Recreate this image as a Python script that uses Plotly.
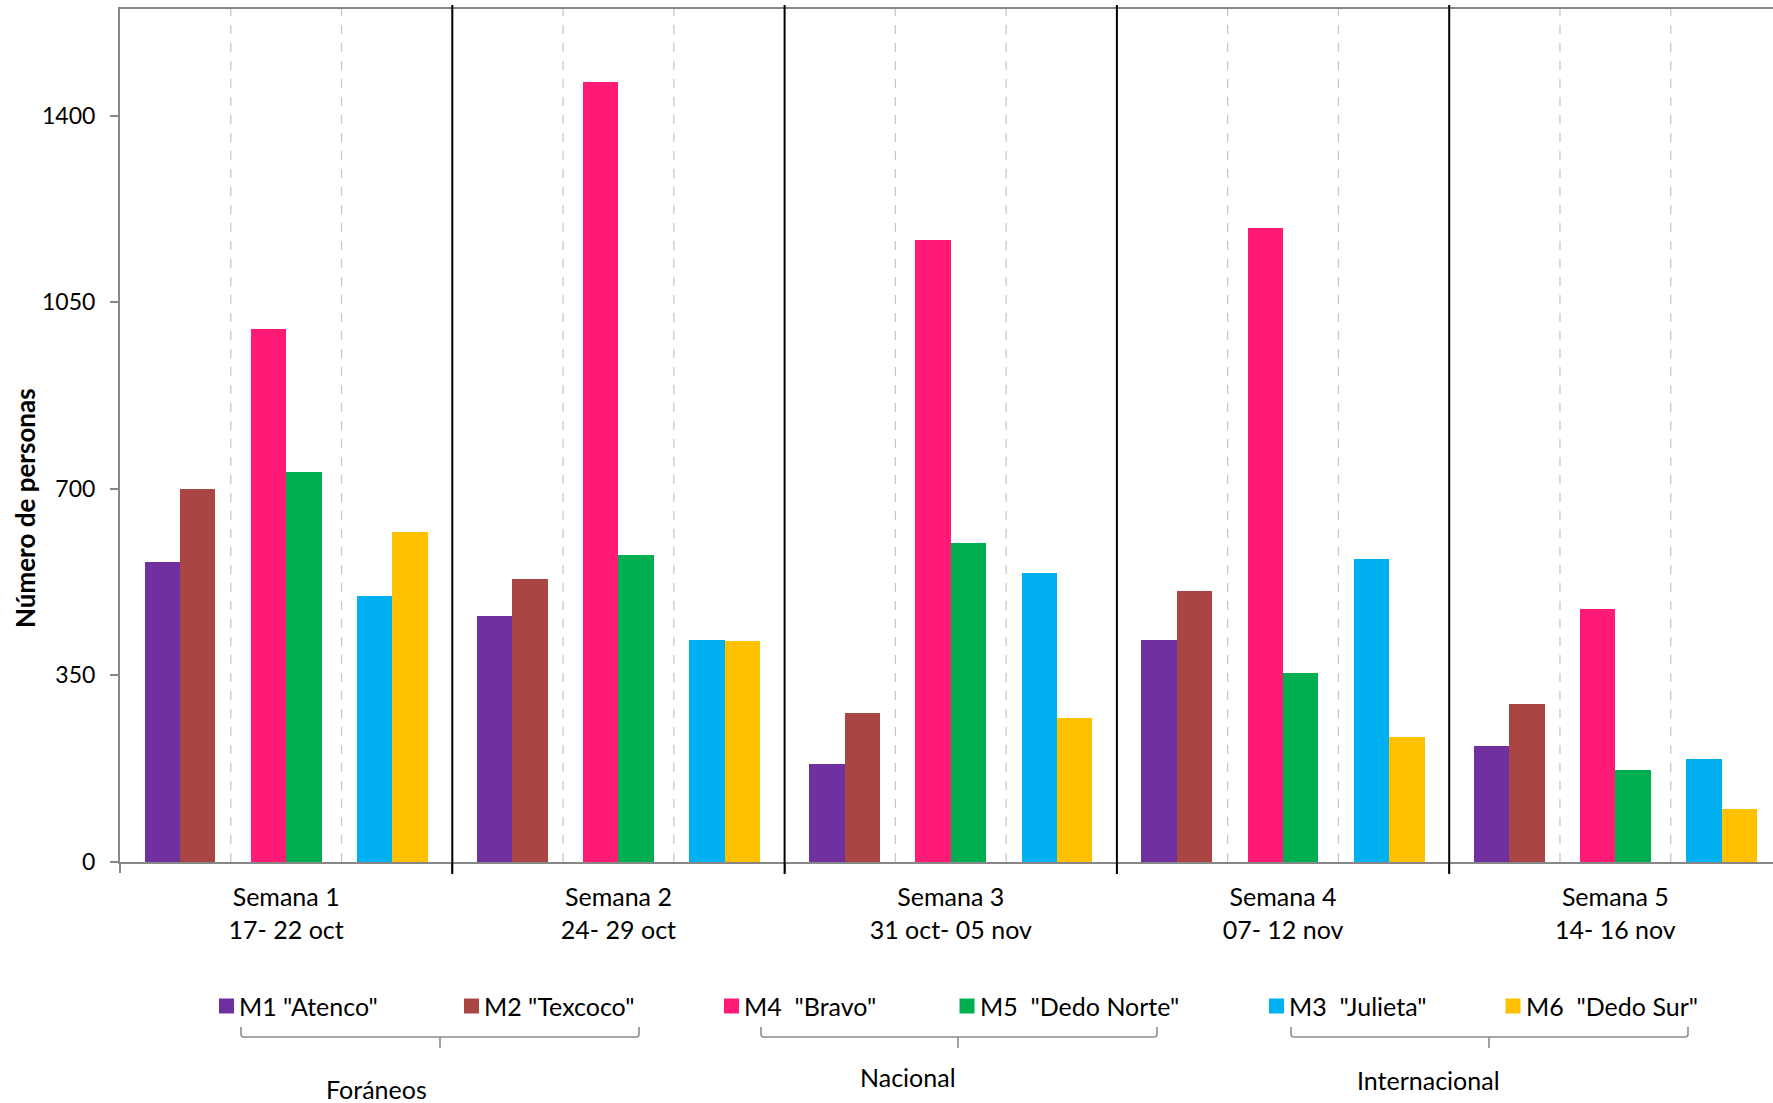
import plotly.graph_objects as go

# ---------------- data ----------------
weeks = ["Semana 1", "Semana 2", "Semana 3", "Semana 4", "Semana 5"]
dates = ["17- 22 oct", "24- 29 oct", "31 oct- 05 nov", "07- 12 nov", "14- 16 nov"]
y_ticks = [0, 350, 700, 1050, 1400]

m1_atenco = [562, 461, 184, 416, 217]
m2_texcoco = [700, 531, 279, 508, 297]
m4_bravo = [999, 1463, 1167, 1189, 474]
m5_dedo_norte = [732, 576, 599, 354, 173]
m3_julieta = [499, 416, 543, 569, 194]
m6_dedo_sur = [619, 414, 271, 234, 99]

series_names = ['M1 "Atenco"', 'M2 "Texcoco"', 'M4\u00a0 "Bravo"',
                'M5\u00a0 "Dedo Norte"', 'M3\u00a0 "Julieta"', 'M6\u00a0 "Dedo Sur"']
group_names = ["Foráneos", "Nacional", "Internacional"]

# ---------------- style / layout ----------------
series_values = [m1_atenco, m2_texcoco, m4_bravo, m5_dedo_norte, m3_julieta, m6_dedo_sur]
colors = ["#7030A0", "#A94643", "#FF1A75", "#00B050", "#00B0F0", "#FFC000"]
slots = [0, 1, 3, 4, 6, 7]          # 8 slots per week, two empty spacers

W, H = 1773, 1103
ML, MT, MB = 120, 9, 241
PW, PH = W - ML, H - MT - MB
week_px = 332.3
x_span = PW / week_px
bw = 35.4 / week_px
FONT = "Lato, 'Open Sans', sans-serif"
GRAY = "#878787"

x_pos = list(range(len(weeks)))

def px_x(p):
    return (p - ML) / PW

def px_y(p):
    return (H - MB - p) / PH

fig = go.Figure()
for name, vals, col, s in zip(series_names, series_values, colors, slots):
    fig.add_trace(go.Bar(
        x=x_pos, y=vals, name=name, marker=dict(color=col, line=dict(width=0)),
        width=bw, offset=-4 * bw + s * bw, showlegend=False,
    ))

shapes = []
# dashed sub-group dividers
n_third = int(len(weeks) * 3)
for k in range(1, n_third):
    if k % 3 == 0:
        continue
    xv = -0.5 + k / 3
    if xv < -0.5 + x_span:
        shapes.append(dict(type="line", xref="x", yref="paper", x0=xv, x1=xv, y0=0, y1=1,
                           line=dict(color="#C8C8C8", width=1.3, dash="dash"), layer="below"))
# solid week separators
for k in range(len(weeks) - 1):
    xp = (k + 1) / x_span
    shapes.append(dict(type="line", xref="paper", yref="paper", x0=xp, x1=xp,
                       y0=px_y(874), y1=px_y(5), line=dict(color="black", width=2)))

# legend squares + texts
legend_sq_x = [219, 464, 724, 959.5, 1269, 1505.5]
annotations = []
for name, col, sx in zip(series_names, colors, legend_sq_x):
    shapes.append(dict(type="rect", xref="paper", yref="paper",
                       x0=px_x(sx), x1=px_x(sx + 15), y0=px_y(1013.5), y1=px_y(998.5),
                       fillcolor=col, line=dict(width=0)))
    annotations.append(dict(text=name, xref="paper", yref="paper", x=px_x(sx + 18), y=px_y(1006),
                            xanchor="left", yanchor="middle", showarrow=False,
                            font=dict(family=FONT, size=25, color="black")))

# brackets
brackets = [(241, 440, 639), (761, 958, 1157), (1291, 1489, 1688)]
for l, c, r in brackets:
    path = (f"M {px_x(l)} {px_y(1027)} L {px_x(l)} {px_y(1034)} Q {px_x(l)} {px_y(1037)} {px_x(l + 3)} {px_y(1037)} "
            f"L {px_x(r - 3)} {px_y(1037)} Q {px_x(r)} {px_y(1037)} {px_x(r)} {px_y(1034)} L {px_x(r)} {px_y(1027)} "
            f"M {px_x(c)} {px_y(1037)} L {px_x(c)} {px_y(1048)}")
    shapes.append(dict(type="path", xref="paper", yref="paper", path=path,
                       line=dict(color="#8C8C8C", width=1.6)))

group_label_pos = [(376, 1089), (908, 1077), (1428, 1080)]
for g, (gx, gy) in zip(group_names, group_label_pos):
    annotations.append(dict(text=g, xref="paper", yref="paper", x=px_x(gx), y=px_y(gy),
                            xanchor="center", yanchor="middle", showarrow=False,
                            font=dict(family=FONT, size=25, color="black")))

# y-axis title
annotations.append(dict(text="<b>Número de personas</b>", xref="paper", yref="paper",
                        x=px_x(25), y=px_y(508), textangle=-90, xanchor="center", yanchor="middle",
                        showarrow=False, font=dict(family=FONT, size=26, color="black")))

fig.update_layout(
    width=W, height=H, margin=dict(l=ML, r=0, t=MT, b=MB, pad=0),
    plot_bgcolor="white", paper_bgcolor="white", barmode="overlay", bargap=0,
    font=dict(family=FONT, size=25, color="black"),
    shapes=shapes, annotations=annotations, showlegend=False,
    xaxis=dict(range=[-0.5, -0.5 + x_span], tickmode="array", tickvals=x_pos,
               ticktext=[f"{w}<br>{d}" for w, d in zip(weeks, dates)],
               showline=True, linecolor=GRAY, linewidth=2, mirror=True, ticks="",
               showgrid=False, zeroline=False, tickfont=dict(family=FONT, size=25),
               ticklabelstandoff=12,
               minor=dict(ticks="outside", tick0=-0.5, dtick=1, ticklen=9, tickcolor=GRAY, tickwidth=1.5)),
    yaxis=dict(range=[0, 1600], tickmode="array", tickvals=y_ticks,
               showline=True, linecolor=GRAY, linewidth=2, ticks="outside", ticklen=8,
               tickcolor=GRAY, tickwidth=1.5, showgrid=False, zeroline=False,
               ticklabelstandoff=10,
               tickfont=dict(family=FONT, size=23)),
)

fig.write_html("out.html", config={"displayModeBar": False},
               post_script="document.body.style.margin='0';document.body.style.overflow='hidden';")
